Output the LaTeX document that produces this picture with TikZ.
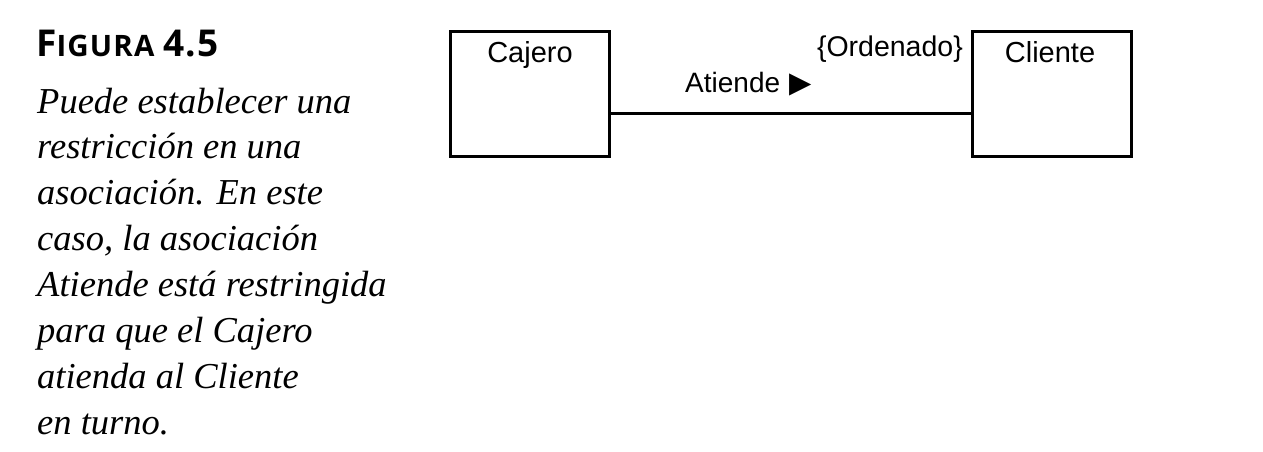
\documentclass[tikz,border=0pt]{standalone}
\usepackage{fontspec}
\setmainfont{Liberation Serif}
\setsansfont{Liberation Sans}
\newfontfamily\titlefont[LetterSpace=4]{Open Sans}
\newfontfamily\symfont{DejaVu Sans}
\begin{document}
\begin{tikzpicture}[x=1pt,y=-1pt,
  classbox/.style={draw,line width=3pt,minimum width=159pt,minimum height=125pt,anchor=north west,inner sep=0pt},
  umltext/.style={font=\sffamily\fontsize{29}{34}\selectfont,inner sep=0pt,anchor=base},
  caption/.style={font=\rmfamily\itshape\fontsize{36.5}{46}\selectfont,inner sep=0pt,anchor=base west}]
\useasboundingbox[fill=white] (0,0) rectangle (1263,451);
\node[anchor=base west,inner sep=0pt,font=\titlefont\bfseries] (title) at (36,56)
  {\fontsize{37}{40}\selectfont F\fontsize{29.5}{32}\selectfont IGURA \fontsize{37}{40}\selectfont 4.5};
\foreach \t [count=\i] in {Puede establecer una,restricción en una,asociación. En este,{caso, la asociación},Atiende está restringida,para que el Cajero,atienda al Cliente,en turno.}
  \node[caption] (cap\i) at (37,{113+45.9*(\i-1)}) {\t};
\node[classbox] (cajero) at (448.5,29.5) {};
\node[classbox] (cliente) at (970.5,29.5) {};
\node[umltext] (cajeroname) at (530,62) {Cajero};
\node[umltext] (clientename) at (1050,62) {Cliente};
\coordinate (la) at (cajero.east |- 0,113);
\coordinate (lb) at (cliente.west |- 0,113);
\draw[line width=3pt] (la) -- (lb);
\node[umltext,font=\sffamily\fontsize{28}{30}\selectfont,anchor=base west] (atiende) at (685,92) {Atiende\hspace{9pt}{\symfont\fontsize{29}{24}\selectfont ▶}};
\node[umltext,font=\sffamily\fontsize{28.5}{30}\selectfont,anchor=base east] (ord) at (963,56) {\{Ordenado\}};
\end{tikzpicture}
\end{document}
